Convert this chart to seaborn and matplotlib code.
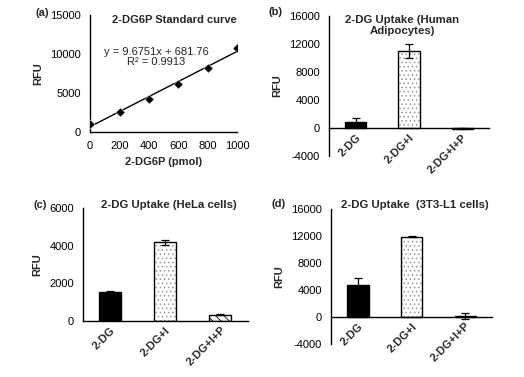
import numpy as np
import pandas as pd
import matplotlib
matplotlib.use("Agg")
import matplotlib.pyplot as plt
from matplotlib.patches import Rectangle
import seaborn as sns

sns.set_style("white")
plt.rcParams['font.family'] = ['Liberation Sans', 'DejaVu Sans']
plt.rcParams['hatch.linewidth'] = 0.6
plt.rcParams['axes.unicode_minus'] = False

# standard curve
std_pmol = [0, 200, 400, 600, 800, 1000]
std_rfu = [1000, 2570, 4200, 6130, 8230, 10800]
slope, intercept, r2 = 9.6751, 681.76, 0.9913

# uptake panels
groups = ["2-DG", "2-DG+I", "2-DG+I+P"]
adipo_mean = [900, 10950, -100]
adipo_err = [500, 1000, 60]
hela_mean = [1520, 4190, 320]
hela_err = [80, 130, 20]
l1_mean = [4700, 11850, 150]
l1_err = [1000, 80, 450]

fs = 8
fig = plt.figure(figsize=(5.24, 3.77), dpi=100)

def style_axes(ax):
    for s in ("top", "right"):
        ax.spines[s].set_visible(False)
    for s in ("left", "bottom"):
        ax.spines[s].set_linewidth(1.0)
        ax.spines[s].set_color("black")
    ax.tick_params(direction="inout", length=6, width=1, labelsize=fs, colors="black")
    ax.set_ylabel("RFU", fontsize=fs, fontweight="bold", labelpad=5)
    ax.grid(False)

# (a) standard curve
ax = fig.add_axes([0.172, 0.650, 0.281, 0.310])
sns.scatterplot(x=std_pmol, y=std_rfu, marker="D", color="black", s=22, ax=ax, zorder=3)
fit_x = np.array([std_pmol[0], std_pmol[-1]])
ax.plot(fit_x, slope * fit_x + intercept, color="black", lw=1)
ax.set_xlim(0, 1000)
ax.set_ylim(0, 15000)
ax.set_xticks(std_pmol)
ax.set_yticks([0, 5000, 10000, 15000])
style_axes(ax)
ax.set_xlabel("2-DG6P (pmol)", fontsize=fs, fontweight="bold", labelpad=4)
fig.text(0.333, 0.947, "2-DG6P Standard curve", ha="center", va="center",
         fontsize=fs, fontweight="bold")
ax.text(0.45, 0.64, f"y = {slope}x + {intercept}\nR² = {r2}", transform=ax.transAxes,
        ha="center", va="center", fontsize=fs, linespacing=1.05)
fig.text(0.067, 0.965, "(a)", fontsize=fs, fontweight="bold", va="center")


def bar_panel(rect, means, errs, ylim, yticks, title, title_pos, label, label_pos,
              third_hatch=None):
    ax = fig.add_axes(rect)
    df = pd.DataFrame({"group": groups, "rfu": means})
    sns.barplot(data=df, x="group", y="rfu", hue="group", palette=["black", "white", "white"],
                legend=False, width=0.4, edgecolor="black", linewidth=1, ax=ax, zorder=2)
    bars = ax.patches
    # dotted fill for second bar
    b = bars[1]
    b.set_edgecolor("#9a9a9a")
    b.set_hatch("....")
    b.set_linewidth(0)
    ax.add_patch(Rectangle((b.get_x(), b.get_y()), b.get_width(), b.get_height(),
                           fill=False, edgecolor="black", lw=1, zorder=3))
    if third_hatch:
        bars[2].set_hatch(third_hatch)
    ax.errorbar(range(len(groups)), means, yerr=errs, fmt="none", ecolor="black",
                elinewidth=0.9, capsize=3, capthick=0.9, zorder=4)
    ax.set_ylim(*ylim)
    ax.set_yticks(yticks)
    ax.set_xlim(-0.5, 2.5)
    style_axes(ax)
    ax.spines["bottom"].set_position(("data", 0))
    ax.set_xticks([-0.5, 0.5, 1.5, 2.5])
    ax.set_xticklabels([])
    ax.set_xticks(range(len(groups)), minor=True)
    ax.set_xticklabels(groups, minor=True, rotation=45, ha="right", rotation_mode="anchor",
                       fontsize=fs, fontweight="bold")
    ax.tick_params(axis="x", which="minor", length=0, pad=3)
    ax.set_xlabel("")
    fig.text(title_pos[0], title_pos[1], title, ha="center", va="center",
             fontsize=fs + 0.2, fontweight="bold", linespacing=1.1)
    fig.text(label_pos[0], label_pos[1], label, fontsize=fs, fontweight="bold", va="center")
    return ax

bar_panel([0.628, 0.586, 0.305, 0.372], adipo_mean, adipo_err, (-4000, 16000),
          [-4000, 0, 4000, 8000, 12000, 16000], "2-DG Uptake (Human\nAdipocytes)",
          (0.768, 0.932), "(b)", (0.513, 0.968))
bar_panel([0.158, 0.149, 0.315, 0.299], hela_mean, hela_err, (0, 6000),
          [0, 2000, 4000, 6000], "2-DG Uptake (HeLa cells)", (0.323, 0.456),
          "(c)", (0.063, 0.456), third_hatch="\\\\\\\\")
bar_panel([0.632, 0.088, 0.307, 0.358], l1_mean, l1_err, (-4000, 16000),
          [-4000, 0, 4000, 8000, 12000, 16000], "2-DG Uptake  (3T3-L1 cells)",
          (0.791, 0.456), "(d)", (0.519, 0.459))

fig.savefig("out.png", dpi=100)
